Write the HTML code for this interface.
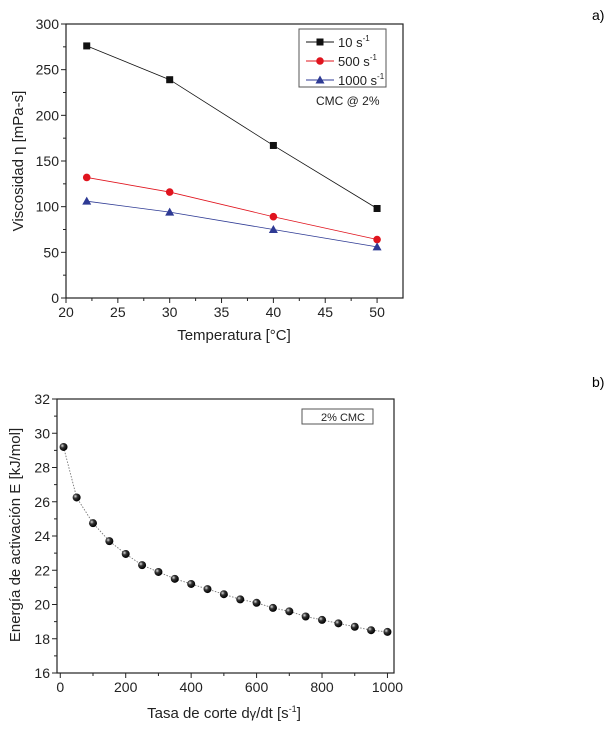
<!DOCTYPE html>
<html><head><meta charset="utf-8"><style>
body{margin:0;background:#fff;width:612px;height:735px;overflow:hidden;font-family:"Liberation Sans",sans-serif}
svg text{font-family:"Liberation Sans",sans-serif}
</style></head><body>
<svg width="612" height="735">
<text x="592" y="20" font-family="Liberation Serif" font-size="14">a)</text>
<text x="592" y="387" font-family="Liberation Serif" font-size="14">b)</text>
<g id="ca"></g>
<g id="cb"></g>
</svg>
<script>
const tempsA=[22,30,40,50];
const s10=[276,239,167,98];
const s500=[132,116,89,64];
const s1000=[106,94,75,56];
const xTicksA=[20,25,30,35,40,45,50];
const yTicksA=[0,50,100,150,200,250,300];
const rateB=[10,50,100,150,200,250,300,350,400,450,500,550,600,650,700,750,800,850,900,950,1000];
const energyB=[29.2,26.25,24.75,23.7,22.95,22.3,21.9,21.5,21.2,20.9,20.6,20.3,20.1,19.8,19.6,19.3,19.1,18.9,18.7,18.5,18.4];
const xTicksB=[0,200,400,600,800,1000];
const yTicksB=[16,18,20,22,24,26,28,30,32];
const NS='http://www.w3.org/2000/svg';
function mk(p,t,a){const e=document.createElementNS(NS,t);for(const k in a)e.setAttribute(k,a[k]);p.appendChild(e);return e;}
function frame(g,L,R,T,B,xmin,xmax,ymin,ymax,xt,yt){
 const X=v=>L+(v-xmin)/(xmax-xmin)*(R-L),Y=v=>B-(v-ymin)/(ymax-ymin)*(B-T);
 const r=mk(g,'rect',{x:L,y:T,width:R-L,height:B-T,fill:'none',stroke:'#222','stroke-width':1.2});
 
 
 xt.forEach(v=>{mk(g,'line',{x1:X(v),x2:X(v),y1:B,y2:B+5,stroke:'#222'});
  const t=mk(g,'text',{x:X(v),y:B+19,'font-size':14,'text-anchor':'middle',fill:'#222'});t.textContent=v;
  
  });
 for(let i=0;i<xt.length-1;i++){const m=(xt[i]+xt[i+1])/2;mk(g,'line',{x1:X(m),x2:X(m),y1:B,y2:B+3,stroke:'#222'});}
 yt.forEach(v=>{mk(g,'line',{x1:L,x2:L-5,y1:Y(v),y2:Y(v),stroke:'#222'});
  const t=mk(g,'text',{x:L-7,y:Y(v)+5,'font-size':14,'text-anchor':'end',fill:'#222'});t.textContent=v;
  
  });
 for(let i=0;i<yt.length-1;i++){const m=(yt[i]+yt[i+1])/2;mk(g,'line',{x1:L,x2:L-3,y1:Y(m),y2:Y(m),stroke:'#222'});}
 return [X,Y];
}
const ga=document.getElementById('ca');
const [XA,YA]=frame(ga,66,403,24,298,20,52.5,0,300,xTicksA,yTicksA);
function series(vals,col,shape,name){
 const pl=mk(ga,'polyline',{points:tempsA.map((t,i)=>XA(t)+','+YA(vals[i])).join(' '),fill:'none',stroke:col,'stroke-width':0.8});
 
 
 tempsA.forEach((t,i)=>{const x=XA(t),y=YA(vals[i]);let m;
  if(shape==='sq')m=mk(ga,'rect',{x:x-3.5,y:y-3.5,width:7,height:7,fill:col});
  else if(shape==='ci')m=mk(ga,'circle',{cx:x,cy:y,r:3.8,fill:col});
  else m=mk(ga,'polygon',{points:`${x},${y-4.5} ${x-4.5},${y+3.5} ${x+4.5},${y+3.5}`,fill:col});
  
  });
}
series(s10,'#111','sq','series-10');
series(s500,'#e0141e','ci','series-500');
series(s1000,'#2e3a94','tr','series-1000');
const lg=mk(ga,'g',{});
mk(lg,'rect',{x:299,y:29,width:87,height:58,fill:'#fff',stroke:'#555'});
[['10','#111','sq',42],['500','#e0141e','ci',61],['1000','#2e3a94','tr',80]].forEach(([l,c,s,y])=>{
 mk(lg,'line',{x1:306,x2:334,y1:y,y2:y,stroke:c});
 if(s==='sq')mk(lg,'rect',{x:316.5,y:y-3.5,width:7,height:7,fill:c});
 else if(s==='ci')mk(lg,'circle',{cx:320,cy:y,r:3.8,fill:c});
 else mk(lg,'polygon',{points:`320,${y-4.5} 315.5,${y+3.5} 324.5,${y+3.5}`,fill:c});
 const t=mk(lg,'text',{x:338,y:y+5,'font-size':13,fill:'#222'});t.innerHTML=l+' s<tspan dy="-6" font-size="8">-1</tspan>';
 });
let t=mk(ga,'text',{x:316,y:105,'font-size':12,fill:'#222'});t.textContent='CMC @ 2%';

t=mk(ga,'text',{x:234,y:340,'font-size':15,'text-anchor':'middle',fill:'#222'});t.textContent='Temperatura [°C]';

t=mk(ga,'text',{x:0,y:0,'font-size':15,'text-anchor':'middle',fill:'#222',transform:'translate(23,161) rotate(-90)'});t.textContent='Viscosidad η [mPa-s]';

const gb=document.getElementById('cb');
const [XB,YB]=frame(gb,57,394,399,673,-10,1020,16,32,xTicksB,yTicksB);
const pb=mk(gb,'polyline',{points:rateB.map((r,i)=>XB(r)+','+YB(energyB[i])).join(' '),fill:'none',stroke:'#777','stroke-width':0.9,'stroke-dasharray':'1.5,1.5'});

const defs=mk(gb,'defs',{});const rg=mk(defs,'radialGradient',{id:'sph',cx:'0.35',cy:'0.35',r:'0.65'});
mk(rg,'stop',{offset:'0','stop-color':'#ddd'});mk(rg,'stop',{offset:'0.4','stop-color':'#333'});mk(rg,'stop',{offset:'1','stop-color':'#000'});
rateB.forEach((r,i)=>{const c=mk(gb,'circle',{cx:XB(r),cy:YB(energyB[i]),r:4,fill:'url(#sph)'});
 });
const lb=mk(gb,'g',{});
mk(lb,'rect',{x:302,y:409,width:71,height:15,fill:'#fff',stroke:'#555'});
t=mk(lb,'text',{x:343,y:421,'font-size':11,'text-anchor':'middle',fill:'#222'});t.textContent='2% CMC';
t=mk(gb,'text',{x:224,y:718,'font-size':15,'text-anchor':'middle',fill:'#222'});t.innerHTML='Tasa de corte d<tspan font-size="13">γ</tspan>/dt [s<tspan dy="-6" font-size="9">-1</tspan><tspan dy="6">]</tspan>';

t=mk(gb,'text',{x:0,y:0,'font-size':15,'text-anchor':'middle',fill:'#222',transform:'translate(20,535) rotate(-90)'});t.textContent='Energía de activación E [kJ/mol]';

</script>
</body></html>
